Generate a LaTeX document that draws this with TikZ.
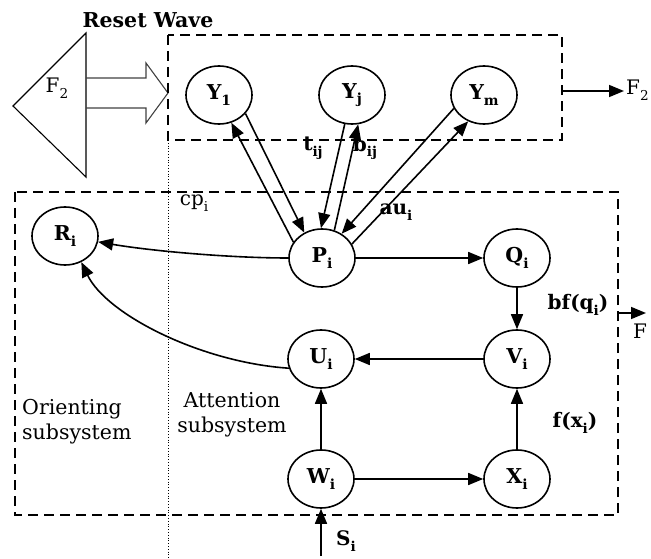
\documentclass[tikz,border=0pt]{standalone}
\usepackage{fontspec}
\setmainfont{DejaVu Serif}
\usetikzlibrary{arrows.meta,shapes.geometric}
% lowered, reduced index that keeps the current weight
\newcommand{\sbs}[1]{\raisebox{-0.28em}{\scalebox{0.68}{#1}}}
\begin{document}
\begin{tikzpicture}[x=1pt,y=-1pt,
  neuron/.style={ellipse, draw, line width=1.6pt, minimum width=66pt,
    minimum height=58pt, inner sep=0pt, font=\fontsize{20.5}{24}\selectfont\bfseries},
  conn/.style={-{Triangle[length=15pt,width=12pt]}, line width=1.6pt},
  region/.style={draw, line width=1.9pt, dash pattern=on 10pt off 6pt},
  lbl/.style={font=\fontsize{20}{24}\selectfont\bfseries, inner sep=0pt},
  plain/.style={font=\fontsize{20}{24}\selectfont, inner sep=0pt},
  caption/.style={font=\fontsize{20.5}{25}\selectfont, inner sep=0pt},
]
\useasboundingbox (0,0) rectangle (651,559);

% F2 layer and the reset wave sent into the category field
\draw[line width=1.1pt] (86,33) -- (13,106) -- (86,177) -- cycle;
\node[plain] (f2lbl) at (57,88) {F\sbs{2}};
\draw[line width=1.1pt, black!75] (86,78) -- (146,78) -- (146,63) -- (168,93)
  -- (146,123) -- (146,108) -- (86,108);
\node[font=\fontsize{20.5}{24}\selectfont\bfseries, inner sep=0pt] (reset) at (148,20) {Reset Wave};

% subsystem boundaries
\draw[dotted, line width=0.8pt] (168,140) -- (168,559);
\draw[region] (168,35) rectangle (562,140);
\draw[region] (15,192) rectangle (618,515);

% neurons
\node[neuron] (Y1) at (219,95) {Y\sbs{1}};
\node[neuron] (Yj) at (352,95) {Y\sbs{j}};
\node[neuron] (Ym) at (484,95) {Y\sbs{m}};
\node[neuron] (Ri) at (65,236) {R\sbs{i}};
\node[neuron] (Pi) at (322,258) {P\sbs{i}};
\node[neuron] (Qi) at (517,258) {Q\sbs{i}};
\node[neuron] (Ui) at (321,359) {U\sbs{i}};
\node[neuron] (Vi) at (517,359) {V\sbs{i}};
\node[neuron] (Wi) at (321,479) {W\sbs{i}};
\node[neuron] (Xi) at (517,479) {X\sbs{i}};

% bottom-up and top-down pathways
\draw[conn] (Pi.151) -- (Y1.-66);
\draw[conn] (Y1.-35) -- (Pi.125);
\draw[conn] (Yj.-104) -- (Pi.92);
\draw[conn] (Pi.66) -- (Yj.-78);
\draw[conn] (Ym.-156) -- (Pi.51);
\draw[conn] (Pi.25) -- (Ym.-121);

% attention subsystem
\draw[conn] (Pi) -- (Qi);
\draw[conn] (Qi) -- (Vi);
\draw[conn] (Vi) -- (Ui);
\draw[conn] (Wi) -- (Ui);
\draw[conn] (Wi) -- (Xi);
\draw[conn] (Xi) -- (Vi);

% orienting subsystem
\draw[conn] (Pi.west) .. controls +(-59,0) and +(52,9) .. (Ri.-10);
\draw[conn] (Ui.196) .. controls +(-89,-6) and +(25,52) .. (Ri.-58);

% inputs and outputs
\coordinate (sin) at (321,556);
\draw[conn] (sin) -- (Wi.south);
\node[lbl] (slbl) at (346,541) {S\sbs{i}};
\coordinate (f2out) at (562,91);
\coordinate (f2tip) at (624,91);
\draw[conn] (f2out) -- (f2tip);
\node[plain, anchor=west] (f2o) at (626,90) {F\sbs{2}};
\coordinate (fout) at (618,313);
\coordinate (ftip) at (646,313);
\draw[conn] (fout) -- (ftip);
\node[plain, anchor=west] (fo) at (633,331) {F};

% weights and signals
\node[lbl] (tij) at (313,148) {t\sbs{ij}};
\node[lbl] (bij) at (365,148) {b\sbs{ij}};
\node[plain] (cpi) at (194,203) {cp\sbs{i}};
\node[lbl] (aui) at (396,212) {au\sbs{i}};
\node[lbl] (bfq) at (578,305) {bf(q\sbs{i})};
\node[lbl] (fx) at (575,423) {f(x\sbs{i})};

% subsystem names
\node[caption, align=left, anchor=north west] (orient) at (22,399) {Orienting\\subsystem};
\node[caption, align=center, anchor=north] (attn) at (232,392) {Attention\\subsystem};
\end{tikzpicture}
\end{document}
